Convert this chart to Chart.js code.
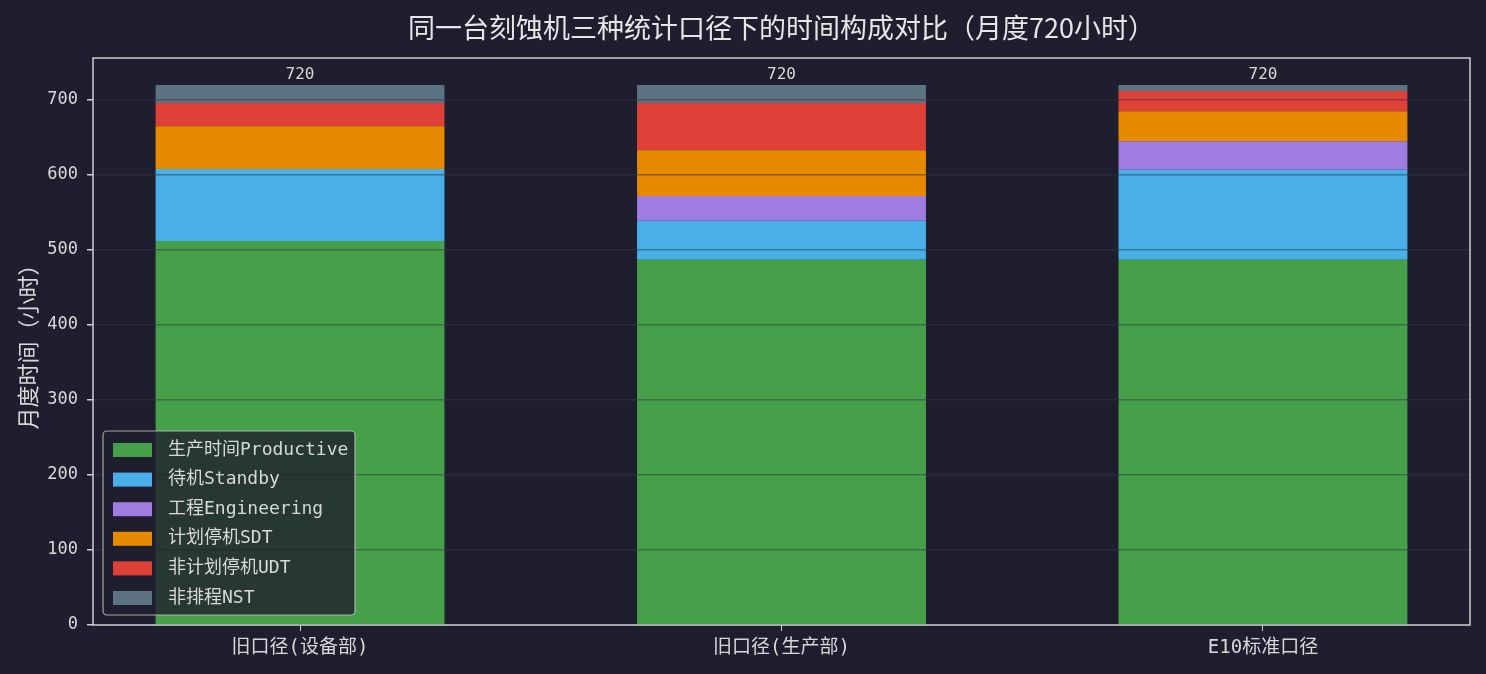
<!DOCTYPE html>
<html lang="zh">
<head>
    <meta charset="UTF-8">
    <title>刻蚀机时间构成对比</title>
    <script src="https://cdn.jsdelivr.net/npm/chart.js"></script>
    <style>
        body {
            margin: 0;
            background-color: #1f1e2e;
        }
        .wrap {
            width: 1486px;
            height: 674px;
        }
    </style>
</head>
<body>
    <div class="wrap">
        <canvas id="timeChart" width="1486" height="674"></canvas>
    </div>

    <script>
        // 统计口径
        const categories = ['旧口径(设备部)', '旧口径(生产部)', 'E10标准口径'];
        // 各状态小时数
        const productive = [512, 487, 487];
        const standby = [96, 52, 120];
        const engineering = [0, 33, 38];
        const sdt = [57, 61, 40];
        const udt = [31, 63, 27];
        const nst = [24, 24, 8];
        const yTicks = [0, 100, 200, 300, 400, 500, 600, 700];

        const seriesLabels = ['生产时间Productive', '待机Standby', '工程Engineering', '计划停机SDT', '非计划停机UDT', '非排程NST'];
        const seriesValues = [productive, standby, engineering, sdt, udt, nst];
        const seriesColors = ['#46a04a', '#49afe8', '#a07be0', '#e68a00', '#df4038', '#5c7482'];

        const chartTitle = '同一台刻蚀机三种统计口径下的时间构成对比（月度720小时）';

        const FONT = "'DejaVu Sans Mono', 'Noto Sans CJK SC', sans-serif";
        const CJK = "'Noto Sans CJK SC', sans-serif";
        const TEXT = '#d8d8d8';
        const FRAME = '#cfcfcf';

        const datasets = seriesValues.map((vals, i) => ({
            label: seriesLabels[i],
            data: vals.map((v, j) => ({ x: j, y: v })),
            backgroundColor: seriesColors[i],
            borderWidth: 0,
            barPercentage: 0.6,
            categoryPercentage: 1
        }));

        // 背景
        const bgPlugin = {
            id: 'bg',
            beforeDraw(chart) {
                const ctx = chart.ctx;
                ctx.save();
                ctx.fillStyle = '#1f1e2e';
                ctx.fillRect(0, 0, chart.width, chart.height);
                ctx.restore();
            }
        };

        // 标题 + 柱顶总数 + 外框 + 图例
        const overlayPlugin = {
            id: 'overlay',
            afterDraw(chart) {
                const ctx = chart.ctx;
                const area = chart.chartArea;
                const xs = chart.scales.x;
                const ys = chart.scales.y;
                ctx.save();

                // 标题（以绘图区居中）
                ctx.fillStyle = '#e6e6e6';
                ctx.font = '27px ' + CJK;
                ctx.textAlign = 'center';
                ctx.textBaseline = 'middle';
                ctx.fillText(chartTitle, (area.left + area.right) / 2, 28);

                // 总数标签
                ctx.fillStyle = TEXT;
                ctx.font = '16px ' + FONT;
                ctx.textBaseline = 'bottom';
                categories.forEach((c, j) => {
                    const total = seriesValues.reduce((s, arr) => s + arr[j], 0);
                    ctx.fillText(String(total), xs.getPixelForValue(j), ys.getPixelForValue(total) - 2);
                });

                // 外框
                ctx.strokeStyle = FRAME;
                ctx.lineWidth = 1.5;
                ctx.strokeRect(area.left, area.top, area.right - area.left, area.bottom - area.top);

                // 图例
                const lx = area.left + 10, ly = area.bottom - 194, lw = 252, lh = 184;
                ctx.beginPath();
                ctx.roundRect(lx, ly, lw, lh, 4);
                ctx.fillStyle = 'rgba(31, 30, 46, 0.8)';
                ctx.fill();
                ctx.strokeStyle = 'rgba(200, 200, 200, 0.8)';
                ctx.lineWidth = 1.2;
                ctx.stroke();

                ctx.font = '18px ' + FONT;
                ctx.textAlign = 'left';
                ctx.textBaseline = 'middle';
                seriesLabels.forEach((lab, i) => {
                    const cy = ly + 19 + i * 29.6;
                    ctx.fillStyle = seriesColors[i];
                    ctx.fillRect(lx + 10, cy - 7, 39, 14);
                    ctx.fillStyle = TEXT;
                    ctx.fillText(lab, lx + 65, cy);
                });
                ctx.restore();
            }
        };

        new Chart(document.getElementById('timeChart'), {
            type: 'bar',
            data: { datasets: datasets },
            options: {
                responsive: false,
                animation: false,
                layout: { padding: { left: 0, right: 16, top: 58, bottom: 0 } },
                plugins: {
                    legend: { display: false },
                    tooltip: { enabled: false },
                    title: { display: false }
                },
                scales: {
                    x: {
                        type: 'linear',
                        stacked: true,
                        offset: false,
                        min: -0.43,
                        max: 2.43,
                        afterBuildTicks: scale => {
                            scale.ticks = categories.map((c, j) => ({ value: j }));
                        },
                        afterFit: scale => { scale.height = 49; },
                        ticks: {
                            color: TEXT,
                            font: { family: FONT, size: 19 },
                            padding: 6,
                            maxRotation: 0,
                            callback: v => categories[v]
                        },
                        grid: {
                            offset: false,
                            drawOnChartArea: false,
                            drawTicks: true,
                            tickLength: 6,
                            tickColor: FRAME
                        },
                        border: { display: false }
                    },
                    y: {
                        stacked: true,
                        min: 0,
                        max: 756,
                        afterBuildTicks: scale => {
                            scale.ticks = yTicks.map(v => ({ value: v }));
                        },
                        afterFit: scale => { scale.width = 93; },
                        ticks: {
                            color: TEXT,
                            font: { family: FONT, size: 17 },
                            padding: 9
                        },
                        title: {
                            display: true,
                            text: '月度时间（小时）',
                            color: TEXT,
                            font: { family: CJK, size: 22 },
                            padding: { top: 14, bottom: 0 }
                        },
                        grid: {
                            z: 1,
                            color: 'rgba(53, 53, 68, 0.5)',
                            lineWidth: 1.5,
                            tickLength: 6,
                            tickColor: FRAME
                        },
                        border: { display: false }
                    }
                }
            },
            plugins: [bgPlugin, overlayPlugin]
        });
    </script>
</body>
</html>
